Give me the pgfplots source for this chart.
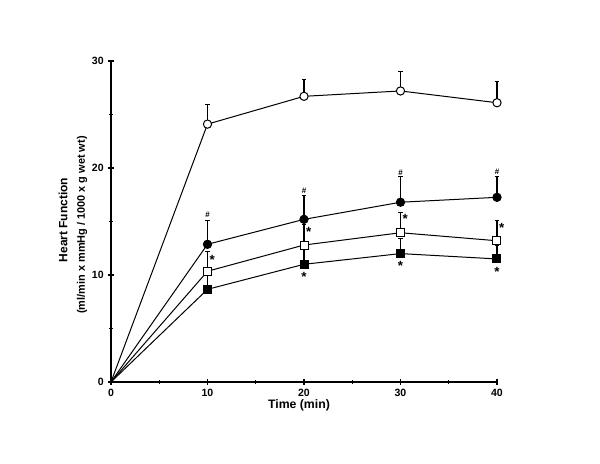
\documentclass[border=0pt]{standalone}
\usepackage{fontspec}
\setmainfont{Liberation Sans}
\usepackage{pgfplots}
\pgfplotsset{compat=1.18}
\begin{document}
\begin{tikzpicture}[
  hash/.style={anchor=base, inner sep=0pt, yshift=-2.1pt, font=\bfseries\fontsize{6}{7}\selectfont},
  star/.style={anchor=base, inner sep=0pt, yshift=-5.6pt, font=\bfseries\fontsize{10}{11}\selectfont},
]
\path (0,0) rectangle (450pt,348pt);
\begin{axis}[
  at={(83.25pt,61.5pt)}, anchor=south west,
  scale only axis, width=289.5pt, height=240.75pt,
  xmin=0, xmax=40, ymin=0, ymax=30,
  axis lines*=left,
  axis line style={line width=1.4pt},
  xtick={0,10,20,30,40}, ytick={0,10,20,30},
  minor xtick={5,15,25,35}, minor ytick={5,15,25},
  tick align=center, major tick length=4pt, minor tick length=2.5pt,
  tick style={line width=1.1pt, black},
  ticklabel style={font=\bfseries\fontsize{7.9}{9}\selectfont},
  /pgf/number format/assume math mode=true,
  clip=false,
]
% error bars (drawn first, behind marks)
\addplot[draw=none, mark=none, forget plot,
  error bars/.cd, y dir=plus, y explicit,
  error bar style={draw=black, line width=1.1pt},
  error mark options={draw=black, rotate=90, mark size=1.8pt, line width=0.8pt}]
  coordinates {(10,24.1) +- (0,1.8) (20,26.7) +- (0,1.6) (30,27.2) +- (0,1.8) (40,26.1) +- (0,2.0)};
\addplot[draw=none, mark=none, forget plot,
  error bars/.cd, y dir=plus, y explicit,
  error bar style={draw=black, line width=1.1pt},
  error mark options={draw=black, rotate=90, mark size=1.8pt, line width=0.8pt}]
  coordinates {(10,12.87) +- (0,2.2) (20,15.2) +- (0,2.2) (30,16.8) +- (0,2.4) (40,17.26) +- (0,1.95)};
\addplot[draw=none, mark=none, forget plot,
  error bars/.cd, y dir=plus, y explicit,
  error bar style={draw=black, line width=1.1pt},
  error mark options={draw=black, rotate=90, mark size=1.8pt, line width=0.8pt}]
  coordinates {(10,10.35) +- (0,1.85) (20,12.8) +- (0,1.9) (30,13.95) +- (0,1.85) (40,13.2) +- (0,1.9)};
\addplot[draw=none, mark=none, forget plot,
  error bars/.cd, y dir=plus, y explicit,
  error bar style={draw=black, line width=1.1pt},
  error mark options={draw=black, rotate=90, mark size=1.8pt, line width=0.8pt}]
  coordinates {(10,8.66) +- (0,1.4) (20,11.0) +- (0,1.4) (30,12.0) +- (0,1.4) (40,11.5) +- (0,1.3)};
% lines with marks
\addplot[black, line width=0.75pt, mark=*, mark size=3.1pt, mark indices={2,3,4,5},
  mark options={fill=white, draw=black, line width=0.75pt}]
  coordinates {(0,0) (10,24.1) (20,26.7) (30,27.2) (40,26.1)};
\addplot[black, line width=0.75pt, mark=*, mark size=3.1pt, mark indices={2,3,4,5},
  mark options={fill=black}]
  coordinates {(0,0) (10,12.87) (20,15.2) (30,16.8) (40,17.26)};
\addplot[black, line width=0.75pt, mark=square*, mark size=3pt, mark indices={2,3,4,5},
  mark options={fill=white, line width=0.75pt}]
  coordinates {(0,0) (10,10.35) (20,12.8) (30,13.95) (40,13.2)};
\addplot[black, line width=0.75pt, mark=square*, mark size=3pt, mark indices={2,3,4,5},
  mark options={fill=black}]
  coordinates {(0,0) (10,8.66) (20,11.0) (30,12.0) (40,11.5)};
% significance annotations
\node[hash] at (axis cs:10,15.6) {\#};
\node[hash] at (axis cs:20,17.9) {\#};
\node[hash] at (axis cs:30,19.6) {\#};
\node[hash] at (axis cs:40,19.65) {\#};
\node[star] at (axis cs:10.5,11.7) {*};
\node[star] at (axis cs:20.5,14.3) {*};
\node[star] at (axis cs:30.5,15.5) {*};
\node[star] at (axis cs:40.5,14.7) {*};
\node[star] at (axis cs:20,10.1) {*};
\node[star] at (axis cs:30,11.1) {*};
\node[star] at (axis cs:40,10.56) {*};
\end{axis}
\node[rotate=90, font=\bfseries\fontsize{9}{10}\selectfont] at (47.25pt,183pt) {Heart Function};
\node[rotate=90, font=\bfseries\fontsize{8.2}{9}\selectfont] at (61.5pt,179.25pt) {(ml/min x mmHg / 1000 x g wet wt)};
\node[font=\bfseries\fontsize{9.2}{10}\selectfont] at (224.25pt,44.25pt) {Time (min)};
\end{tikzpicture}
\end{document}
